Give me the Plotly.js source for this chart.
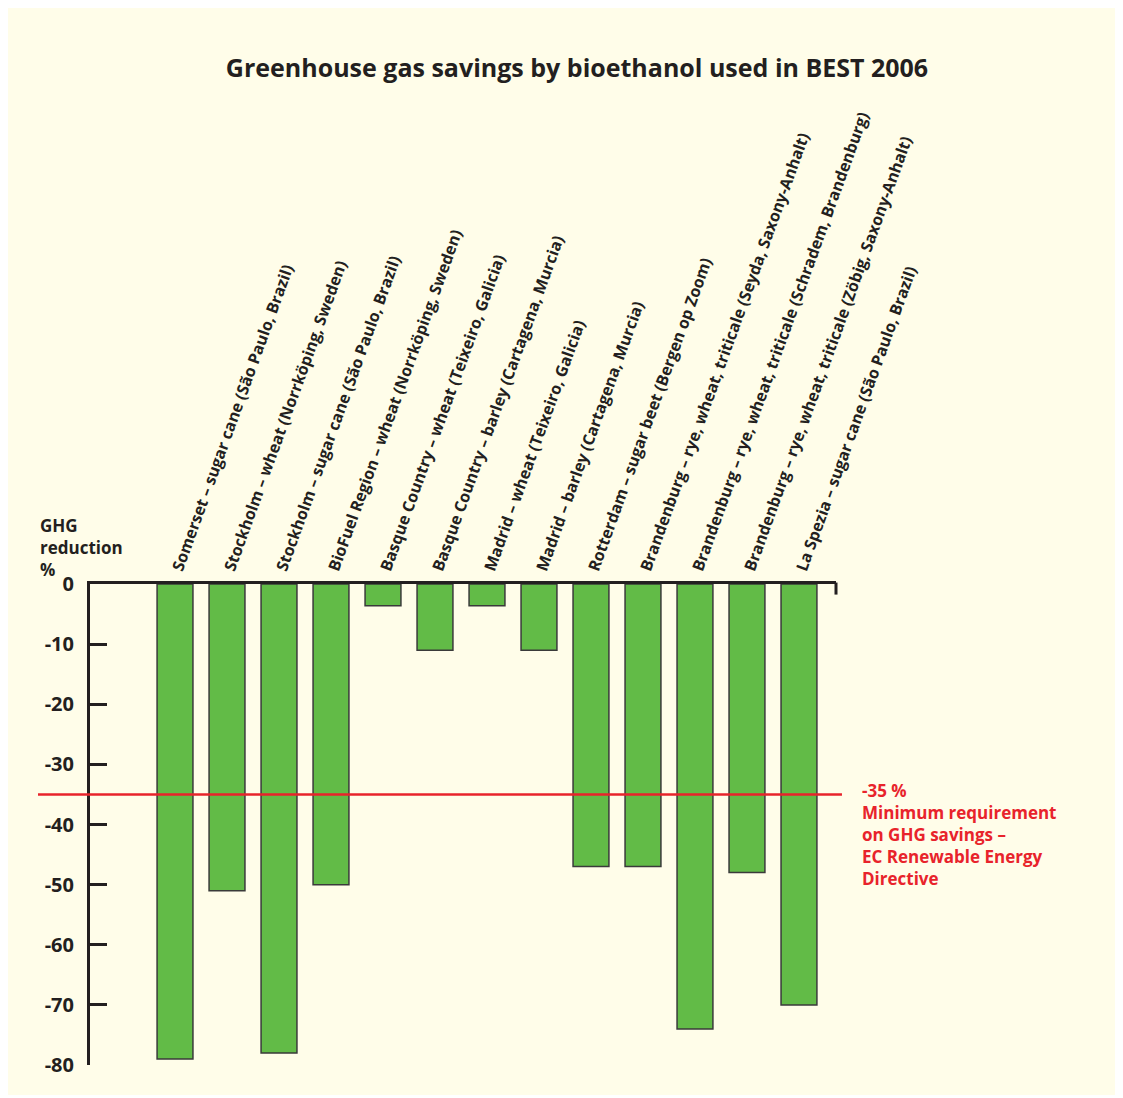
<!DOCTYPE html>
<html>
<head>
<meta charset="utf-8">
<script src="https://cdn.plot.ly/plotly-3.0.1.min.js"></script>
<style>
html,body{margin:0;padding:0;background:#ffffff;}
#chart{position:absolute;left:8px;top:8px;width:1107px;height:1087px;}
</style>
</head>
<body>
<div id="chart"></div>
<script>
const categories = [
  "Somerset – sugar cane (São Paulo, Brazil)",
  "Stockholm – wheat (Norrköping, Sweden)",
  "Stockholm – sugar cane (São Paulo, Brazil)",
  "BioFuel Region – wheat (Norrköping, Sweden)",
  "Basque Country – wheat (Teixeiro, Galicia)",
  "Basque Country – barley (Cartagena, Murcia)",
  "Madrid – wheat (Teixeiro, Galicia)",
  "Madrid – barley (Cartagena, Murcia)",
  "Rotterdam – sugar beet (Bergen op Zoom)",
  "Brandenburg – rye, wheat, triticale (Seyda, Saxony-Anhalt)",
  "Brandenburg – rye, wheat, triticale (Schradem, Brandenburg)",
  "Brandenburg – rye, wheat, triticale (Zöbig, Saxony-Anhalt)",
  "La Spezia – sugar cane (São Paulo, Brazil)"
];
const ghgReduction = [-79, -51, -78, -50, -3.6, -11, -3.6, -11, -47, -47, -74, -48, -70];
const yTickVals = [0, -10, -20, -30, -40, -50, -60, -70, -80];
const yTickText = ["0", "-10", "-20", "-30", "-40", "-50", "-60", "-70", "-80"];
const minRequirement = -35;
const yTitleLines = ["GHG", "reduction", "%"];
const noteLines = ["-35 %", "Minimum requirement", "on GHG savings –", "EC Renewable Energy", "Directive"];

const dark = "#231f20";
const red = "#e8232b";
const font = "Open Sans, Noto Sans, sans-serif";

const trace = {
  type: "bar",
  x: categories,
  y: ghgReduction,
  width: 0.69,
  marker: {color: "#62bb47", line: {color: "#3a3a3a", width: 1.5}},
  hoverinfo: "x+y"
};

const plotTop = 576, plotH = 481;
function paperY(divY) { return 1 - (divY - plotTop) / plotH; }

const layout = {
  width: 1107,
  height: 1087,
  paper_bgcolor: "#fffde9",
  plot_bgcolor: "rgba(0,0,0,0)",
  showlegend: false,
  margin: {l: 82, r: 279, t: plotTop, b: 30},
  title: {
    text: "<b>Greenhouse gas savings by bioethanol used in BEST 2006</b>",
    font: {family: font, size: 25, color: dark},
    x: 569 / 1107, xanchor: "center", xref: "container",
    y: 1 - 60 / 1087, yanchor: "middle", yref: "container"
  },
  xaxis: {
    type: "category",
    side: "top",
    range: [-1.635, 12.712],
    showline: true, linecolor: dark, linewidth: 3,
    showgrid: false, zeroline: false,
    ticks: "",
    tickangle: -70,
    ticklabelstandoff: -3,
    tickfont: {family: font, size: 16, color: dark, weight: "bold"},
    fixedrange: true
  },
  yaxis: {
    range: [-80, 0],
    showline: true, linecolor: dark, linewidth: 3,
    showgrid: false, zeroline: false,
    ticks: "inside", ticklen: 17, tickwidth: 3, tickcolor: dark,
    tickvals: yTickVals, ticktext: yTickText,
    ticklabelstandoff: 9,
    tickfont: {family: font, size: 20, color: dark, weight: "bold"},
    fixedrange: true
  },
  shapes: [
    {type: "line", xref: "paper", yref: "y", x0: -0.0697, x1: 1.008, y0: minRequirement, y1: minRequirement,
     line: {color: red, width: 2.5}},
    {type: "line", xref: "paper", yref: "paper", x0: 1, x1: 1, y0: 1.003, y1: 0.978,
     line: {color: dark, width: 3}}
  ],
  annotations: [
    {xref: "paper", yref: "paper", x: -0.0697, xanchor: "left", y: paperY(504), yanchor: "top",
     text: "<b>" + yTitleLines.join("<br>") + "</b>", align: "left", showarrow: false,
     font: {family: font, size: 17, color: dark}},
    {xref: "paper", yref: "paper", x: 1.032, xanchor: "left", y: paperY(769), yanchor: "top",
     text: "<b>" + noteLines.join("<br>") + "</b>", align: "left", showarrow: false,
     font: {family: font, size: 17, color: red}}
  ]
};

Plotly.newPlot("chart", [trace], layout, {displayModeBar: false, staticPlot: true});
</script>
</body>
</html>
